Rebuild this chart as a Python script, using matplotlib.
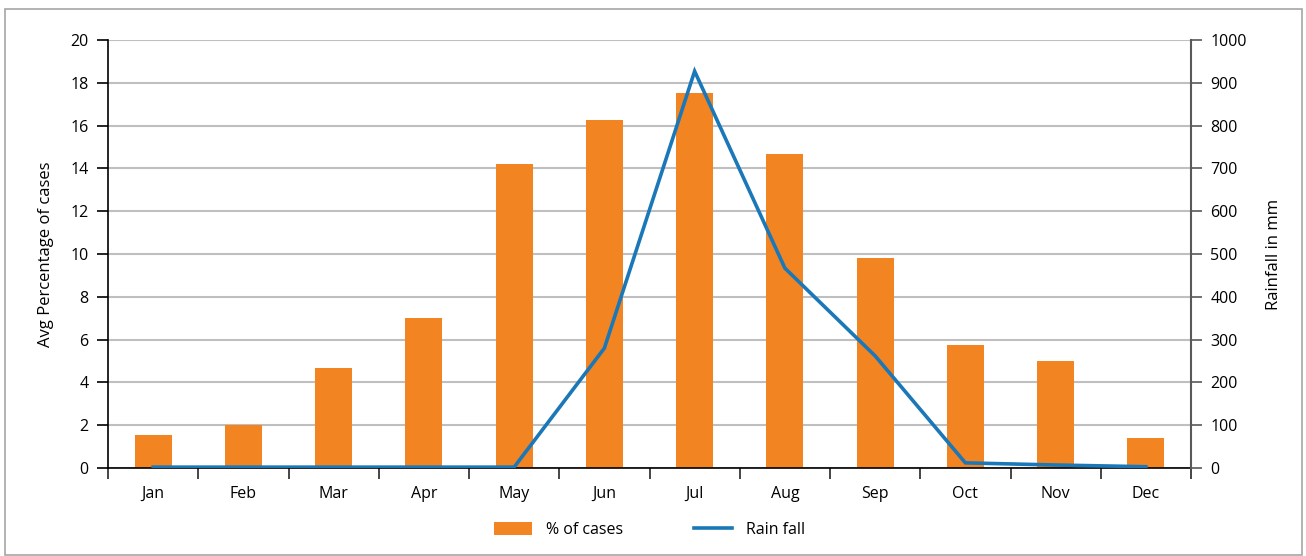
import matplotlib.pyplot as plt
from matplotlib.patches import Rectangle
import numpy as np

plt.rcParams['font.family'] = ['Open Sans', 'DejaVu Sans']

# data
months = ["Jan", "Feb", "Mar", "Apr", "May", "Jun", "Jul", "Aug", "Sep", "Oct", "Nov", "Dec"]
pct_cases = [1.55, 2.0, 4.68, 7.0, 14.2, 16.25, 17.5, 14.68, 9.8, 5.75, 5.0, 1.4]
rainfall = [2, 2, 2, 2, 2, 280, 927, 467, 262, 12, 7, 3]

ORANGE = "#F38422"
BLUE = "#1B78B8"
GRID = "#BFBFBF"

fig = plt.figure(figsize=(13.06, 5.56), dpi=100)

# outer frame
fig.patches.append(Rectangle((5 / 1306, 0.002), 1297 / 1306, 1 - 9 / 556 - 0.002,
                             transform=fig.transFigure, fill=False,
                             edgecolor="#A6A6A6", linewidth=1.2))

ax = fig.add_axes([108 / 1306, 1 - 468 / 556, (1191 - 108) / 1306, (468 - 40) / 556])
ax2 = ax.twinx()

x = np.arange(len(months))
bars = ax.bar(x, pct_cases, width=0.41, color=ORANGE, label="% of cases", zorder=2)
line, = ax2.plot(x, rainfall, color=BLUE, linewidth=2.6, label="Rain fall",
                 solid_joinstyle="miter", zorder=3)

ax.set_xlim(-0.5, len(months) - 0.5)
ax.set_ylim(0, 20)
ax2.set_ylim(0, 1000)
ax.set_yticks(np.arange(0, 21, 2))
ax2.set_yticks(np.arange(0, 1001, 100))

# category labels between boundary ticks
ax.set_xticks(np.arange(-0.5, len(months), 1))
ax.set_xticklabels([])
ax.set_xticks(x, minor=True)
ax.set_xticklabels(months, minor=True)
ax.tick_params(axis="x", which="minor", length=0, pad=13, labelsize=11.5)
ax.tick_params(axis="x", which="major", length=8, width=1.2, color="#262626")
ax.tick_params(axis="y", length=8, width=1.2, labelsize=11.5, pad=6)
ax2.tick_params(axis="y", length=8, width=1.2, labelsize=11.5, pad=6, color="#595959")

ax.grid(axis="y", color=GRID, linewidth=1.5, zorder=0)
ax.set_axisbelow(True)

for a in (ax, ax2):
    a.spines["top"].set_visible(False)
ax.spines["right"].set_visible(False)
ax2.spines["left"].set_visible(False)
ax2.spines["bottom"].set_visible(False)
ax.spines["left"].set_linewidth(1.2)
ax.spines["bottom"].set_linewidth(1.2)
ax2.spines["right"].set_linewidth(1.5)
ax2.spines["right"].set_color("#595959")

ax.set_ylabel("Avg Percentage of cases", fontsize=12, labelpad=12)
ax2.set_ylabel("Rainfall in mm", fontsize=12, labelpad=14)

ax.legend([bars, line], ["% of cases", "Rain fall"], loc="center",
          bbox_to_anchor=(0.5, -0.145), ncol=2, frameon=False, fontsize=11.5,
          handlelength=2.4, handleheight=0.9, columnspacing=4.4, handletextpad=0.9)

fig.savefig("out.png", dpi=100)
